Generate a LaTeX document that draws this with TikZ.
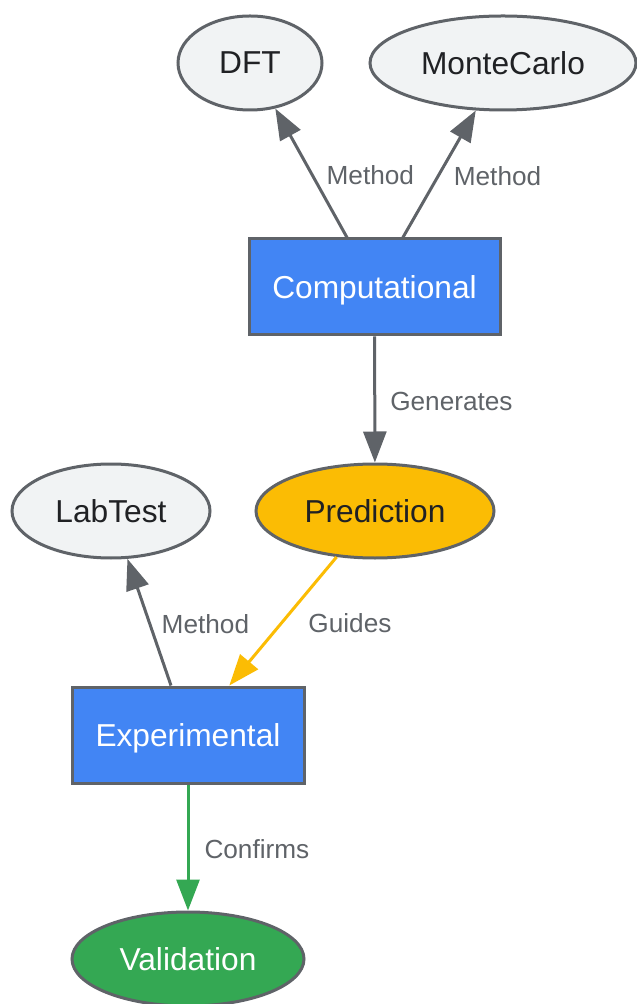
\documentclass[tikz,border=0pt]{standalone}
\usepackage{fontspec}
\setmainfont{Liberation Sans}
\usetikzlibrary{shapes.geometric, arrows.meta}
\definecolor{strokegray}{HTML}{5F6368}
\definecolor{ellfill}{HTML}{F1F3F4}
\definecolor{textdark}{HTML}{202124}
\definecolor{gblue}{HTML}{4285F4}
\definecolor{gyellow}{HTML}{FBBC04}
\definecolor{ggreen}{HTML}{34A853}
\newcommand{\nodefnt}{\fontsize{15.85}{18}\selectfont}
\newcommand{\lblfnt}{\fontsize{13.1}{15}\selectfont}
\begin{document}
\begin{tikzpicture}[x=0.5pt,y=-0.5pt,
  ell/.style={ellipse, draw=strokegray, line width=1.5pt, fill=ellfill, text=textdark, inner sep=0pt, font=\nodefnt, minimum height=47pt, text depth=0pt},
  boxnode/.style={rectangle, draw=strokegray, line width=1.5pt, fill=gblue, text=white, inner sep=0pt, font=\nodefnt, minimum height=48pt, text depth=0pt},
  conn/.style={draw=strokegray, line width=1.5pt, -{Triangle[length=15.5pt,width=11.5pt]}},
  lbl/.style={font=\lblfnt, text=strokegray, inner sep=0pt, anchor=west, yshift=-1pt}]
\useasboundingbox (0,0) rectangle (636,1004);
\node[ell, minimum width=72pt] (dft) at (250,63) {DFT};
\node[ell, minimum width=133pt] (mc) at (503,63) {MonteCarlo};
\node[boxnode, minimum width=125.5pt] (comp) at (374.5,287) {Computational};
\node[ell, fill=gyellow, minimum width=119pt] (pred) at (375,511) {Prediction};
\node[ell, minimum width=99pt] (lab) at (111,511) {LabTest};
\node[boxnode, minimum width=116pt] (exp) at (188,735) {Experimental};
\node[ell, fill=ggreen, text=white, minimum width=116pt] (val) at (188,959) {Validation};
\draw[conn] (comp) -- node[lbl, pos=0.5, xshift=7pt] {Method} (dft);
\draw[conn] (comp) -- node[lbl, pos=0.5, xshift=6.5pt] {Method} (mc);
\draw[conn] (comp) -- node[lbl, pos=0.5, xshift=7pt] {Generates} (pred);
\draw[conn, draw=gyellow] (pred) -- node[lbl, pos=0.5, xshift=12pt] {Guides} (exp);
\draw[conn] (exp) -- node[lbl, pos=0.5, xshift=5.5pt] {Method} (lab);
\draw[conn, draw=ggreen] (exp) -- node[lbl, pos=0.5, xshift=7.5pt] {Confirms} (val);
\end{tikzpicture}
\end{document}
